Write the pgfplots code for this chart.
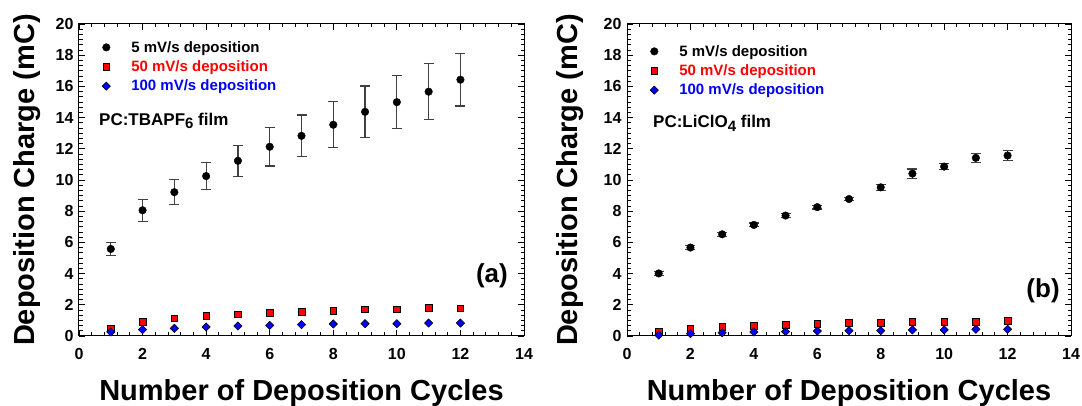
\documentclass[border=0pt]{standalone}
\usepackage{pgfplots}
\pgfplotsset{compat=1.18}
\usepackage{fontspec}
\setmainfont{Liberation Sans}

\pgfplotsset{
  depstyle/.style={
    scale only axis, width=445pt, height=312pt,
    xmin=0, xmax=14, ymin=0, ymax=20,
    xtick={0,2,...,14}, ytick={0,2,...,20},
    minor x tick num=4, minor y tick num=5,
    major tick length=6pt, minor tick length=3.5pt,
    tick style={black, line width=0.9pt},
    axis line style={line width=1pt},
    tick label style={font=\bfseries\fontsize{16}{16}\selectfont},
    /pgf/number format/assume math mode=true,
    xticklabel style={yshift=-9pt},
    yticklabel style={xshift=-2pt},
    label style={font=\bfseries\fontsize{29}{29}\selectfont},
    xlabel style={at={(axis description cs:0.5,0)}, anchor=north, yshift=-40pt},
    xlabel={Number of Deposition Cycles},
    ylabel={Deposition Charge (mC)},
    legend style={at={(rel axis cs:0,1)}, anchor=north west, xshift=20pt, yshift=-13pt,
      draw=none, fill=none, font=\bfseries\fontsize{15}{16}\selectfont, row sep=3pt},
    legend cell align=left,
    legend image code/.code={\path[draw=none, fill=none] (-4pt,0pt) rectangle (23pt,0.1pt); \draw[##1] plot coordinates {(0pt,0pt)};},
  },
  blk/.style={only marks, mark=*, mark size=3.8pt, black,
    error bars/.cd, y dir=both, y explicit,
    error bar style={line width=1.2pt, black!75},
    error mark options={rotate=90, mark size=5pt, line width=1.2pt, black!75}},
  rsq/.style={only marks, mark=square*, mark size=3.3pt, mark options={fill=red, draw=black, line width=0.6pt}},
  bdi/.style={only marks, mark=square*, mark size=2.9pt, mark options={rotate=45, fill=blue, draw=black, line width=0.6pt}},
}

\begin{document}
\begin{tikzpicture}
\useasboundingbox (0,0) rectangle (1082pt,406pt);

% (a) PC:TBAPF6
\begin{axis}[depstyle, at={(79pt,70pt)}, anchor=south west,
  ylabel style={at={(axis description cs:-0.117,0.5)}, anchor=center}]
\addplot[blk] table[x=n, y=q, y error=e] {
n q e
1 5.58 0.40
2 8.06 0.70
3 9.22 0.80
4 10.25 0.88
5 11.23 1.00
6 12.13 1.23
7 12.83 1.34
8 13.54 1.47
9 14.37 1.65
10 14.99 1.71
11 15.66 1.79
12 16.43 1.69
};
\addlegendentry{5 mV/s deposition}
\addplot[rsq] table[x=n, y=q] {
n q
1 0.49
2 0.92
3 1.13
4 1.28
5 1.39
6 1.48
7 1.56
8 1.60
9 1.71
10 1.71
11 1.82
12 1.78
};
\addlegendentry{\textcolor{red}{50 mV/s deposition}}
\addplot[bdi] table[x=n, y=q] {
n q
1 0.26
2 0.41
3 0.49
4 0.58
5 0.64
6 0.68
7 0.73
8 0.77
9 0.79
10 0.79
11 0.83
12 0.83
};
\addlegendentry{\textcolor{blue}{100 mV/s deposition}}
\node[anchor=west, inner sep=0pt, font=\bfseries\fontsize{17}{17}\selectfont] at (axis cs:0.63,13.78)
  {PC:TBAPF\raisebox{-0.4ex}{\fontsize{15}{15}\selectfont 6} film};
\node[font=\bfseries\fontsize{26}{26}\selectfont] at (axis cs:12.99,3.85) {(a)};
\end{axis}

% (b) PC:LiClO4
\begin{axis}[depstyle, at={(627pt,70pt)}, anchor=south west, width=444pt,
  ylabel style={at={(axis description cs:-0.128,0.5)}, anchor=center},
  legend style={yshift=-4pt}]
\addplot[blk] table[x=n, y=q, y error=e] {
n q e
1 4.01 0.15
2 5.67 0.12
3 6.52 0.12
4 7.12 0.12
5 7.72 0.12
6 8.26 0.12
7 8.78 0.10
8 9.53 0.20
9 10.41 0.30
10 10.86 0.18
11 11.42 0.30
12 11.57 0.30
};
\addlegendentry{5 mV/s deposition}
\addplot[rsq] table[x=n, y=q] {
n q
1 0.28
2 0.47
3 0.58
4 0.67
5 0.73
6 0.79
7 0.84
8 0.86
9 0.90
10 0.90
11 0.92
12 0.97
};
\addlegendentry{\textcolor{red}{50 mV/s deposition}}
\addplot[bdi] table[x=n, y=q] {
n q
1 0.06
2 0.15
3 0.21
4 0.26
5 0.28
6 0.32
7 0.34
8 0.34
9 0.39
10 0.39
11 0.43
12 0.43
};
\addlegendentry{\textcolor{blue}{100 mV/s deposition}}
\node[anchor=west, inner sep=0pt, font=\bfseries\fontsize{17}{17}\selectfont] at (axis cs:0.82,13.65)
  {PC:LiClO\raisebox{-0.4ex}{\fontsize{15}{15}\selectfont 4} film};
\node[font=\bfseries\fontsize{26}{26}\selectfont] at (axis cs:13.12,2.88) {(b)};
\end{axis}
\end{tikzpicture}
\end{document}
